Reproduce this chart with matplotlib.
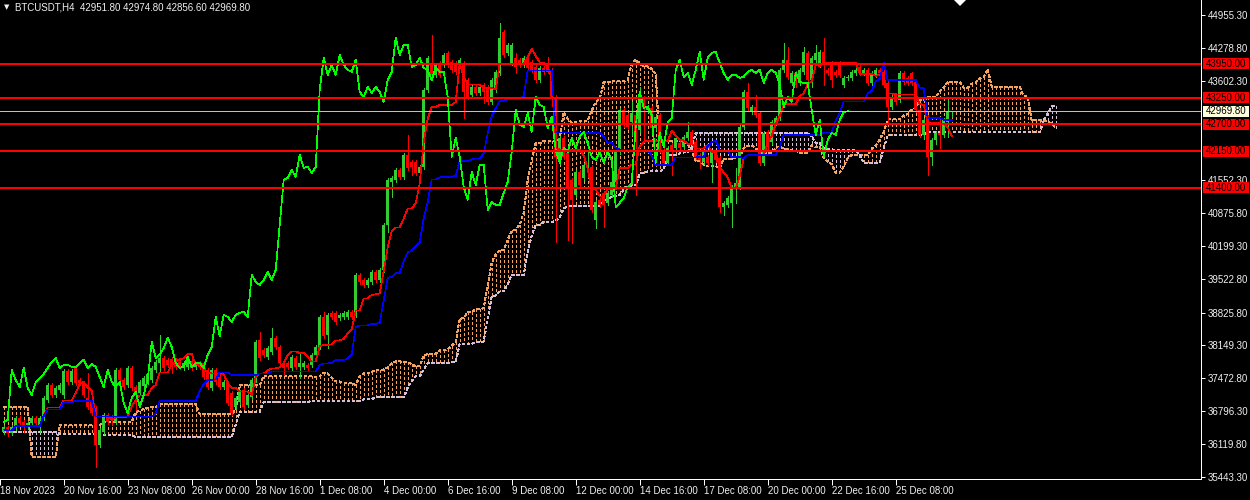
import matplotlib
matplotlib.use("Agg")
import matplotlib.pyplot as plt
from matplotlib.patches import Polygon, Rectangle
from matplotlib.transforms import blended_transform_factory
import numpy as np
import pandas as pd

plt.rcParams["font.family"] = ["Liberation Sans", "DejaVu Sans"]

# BTCUSDT H4 candles, first bar 18 Nov 2023 00:00
OPEN = [
    36369, 36472, 36348, 36451, 36657, 36575, 36472, 36554, 36657, 36513,
    36657, 37028, 37337, 37131, 37234, 37131, 37625, 37399, 37687, 37440,
    37378, 37069, 37028, 36863, 36101, 36369, 36719, 36678, 36575, 37646,
    37440, 37337, 37687, 37296, 37172, 37316, 37399, 37440, 37646, 37790,
    37893, 37852, 37872, 37852, 37811, 37687, 37708, 37831, 37708, 37790,
    37790, 37646, 37275, 37646, 37502, 37296, 37378, 37172, 36884, 36987,
    37234, 36925, 37090, 37440, 38264, 38058, 37914, 38017, 38305, 38119,
    37790, 37790, 37687, 37893, 37708, 37708, 37749, 37749, 37955, 38119,
    38737, 38366, 38819, 38819, 38717, 38737, 38737, 38840, 38778, 39602,
    39499, 39396, 39458, 39664, 39499, 39705, 40631, 41517, 41558, 41764,
    41620, 42073, 41929, 41929, 41702, 41826, 43411, 43967, 43720, 43967,
    43926, 44173, 43988, 43967, 43926, 43967, 43617, 43308, 43473, 43349,
    43514, 43473, 43164, 43411, 43761, 44605, 44173, 43967, 44070, 44029,
    43926, 44029, 43988, 43885, 43617, 43864, 43864, 43823, 43267, 41929,
    42422, 42114, 41558, 41249, 41723, 41599, 41805, 41826, 40734, 41146,
    41290, 41084, 41249, 41517, 42135, 42999, 42896, 42752, 42896, 42587,
    43246, 42999, 43040, 42628, 42896, 42176, 41908, 42278, 42216, 42319,
    42237, 42422, 42546, 42340, 42073, 41929, 42032, 41908, 42135, 42011,
    41002, 41043, 41084, 41393, 41414, 42649, 43370, 42958, 43061, 42937,
    41908, 42546, 42340, 42731, 42834, 43823, 44029, 43555, 43761, 43555,
    43782, 44173, 43617, 44029, 43926, 44193, 43823, 43967, 43782, 43967,
    43514, 43658, 43658, 43761, 43885, 43761, 43823, 43555, 43720, 43823,
    43782, 43555, 43061, 43308, 43205, 43761, 43658, 43761, 43576, 42999,
    42484, 42834, 42032, 42381, 42525, 42484, 42752, 42951.8,
]
HIGH = [
    36513, 36493, 36513, 36699, 36699, 36616, 36595, 36699, 36699, 36699,
    37110, 37378, 37378, 37316, 37378, 37666, 37666, 37666, 37729, 37481,
    37419, 37584, 37069, 36904, 36451, 36760, 36760, 36719, 37687, 37687,
    37481, 37729, 37729, 37337, 37440, 37522, 37605, 37729, 37852, 38366,
    37934, 37893, 37914, 37893, 37852, 37831, 37914, 37872, 37811, 37831,
    37831, 37687, 37687, 37687, 37543, 37440, 37419, 37213, 37110, 37234,
    37275, 37172, 37481, 38264, 38428, 38099, 38140, 38510, 38346, 38160,
    37831, 37831, 37955, 37934, 37996, 37831, 37790, 37996, 38160, 38778,
    38840, 38819, 38860, 38860, 38819, 38860, 38881, 38881, 39643, 39643,
    39540, 39540, 39705, 39705, 39746, 40672, 41599, 41640, 41805, 41805,
    42114, 42484, 41970, 41970, 41867, 43452, 44111, 44543, 43967, 44008,
    44173, 44214, 44029, 44008, 44070, 44008, 43658, 43514, 43514, 43514,
    43555, 43514, 43658, 43823, 44790, 44646, 44379, 44379, 44173, 44070,
    44111, 44070, 44029, 43926, 43905, 43905, 44090, 43864, 43308, 42464,
    42464, 42155, 41599, 41764, 41764, 41908, 42176, 41867, 41146, 41187,
    41331, 41331, 41558, 42176, 43040, 43040, 42937, 43164, 42937, 43473,
    43287, 43102, 43081, 42896, 42937, 42361, 42258, 42319, 42464, 42361,
    42484, 42752, 42587, 42381, 42114, 42176, 42073, 42176, 42176, 42052,
    41125, 41228, 41455, 41805, 42690, 43411, 43555, 43102, 43308, 42978,
    42567, 42587, 42793, 42876, 43864, 44379, 44296, 43802, 43802, 43864,
    44296, 44214, 44111, 44337, 44234, 44482, 43864, 44008, 43823, 44008,
    43699, 43720, 43823, 43864, 43926, 43864, 43864, 43802, 43864, 43864,
    43885, 43597, 43308, 43349, 43802, 43802, 43699, 43782, 43617, 43040,
    42834, 42896, 42422, 42567, 42855, 42834, 43267, 42974.8,
]
LOW = [
    36328, 36287, 36307, 36410, 36513, 36369, 36431, 36513, 36513, 36369,
    36616, 36987, 37090, 37090, 37193, 37069, 37358, 37358, 37337, 37337,
    37090, 36843, 36719, 35648, 36060, 36328, 36534, 36513, 36534, 37399,
    37255, 37296, 37234, 36822, 37131, 37275, 37358, 37399, 37605, 37605,
    37646, 37708, 37584, 37666, 37666, 37646, 37666, 37646, 37666, 37666,
    37460, 37255, 37234, 37358, 37255, 37255, 36925, 36719, 36843, 36946,
    36843, 36884, 37049, 37399, 37852, 37914, 37872, 37975, 38078, 37749,
    37543, 37666, 37646, 37666, 37481, 37666, 37646, 37708, 37914, 38078,
    38305, 38099, 38696, 38593, 38675, 38696, 38696, 38696, 38737, 39416,
    39355, 39355, 39416, 39458, 39458, 39664, 40487, 41208, 41517, 41578,
    41578, 41764, 41661, 41661, 41661, 41784, 43370, 43679, 43679, 43679,
    43885, 43885, 43782, 43740, 43885, 42834, 43226, 43267, 43308, 43308,
    43143, 43123, 43123, 43370, 43720, 44090, 44132, 43926, 43761, 43885,
    43885, 43823, 43782, 43576, 43576, 43740, 43761, 43226, 40281, 41887,
    41990, 40322, 40260, 41208, 41414, 41558, 41764, 40899, 40569, 41002,
    40590, 41043, 41208, 41476, 42093, 42649, 42608, 42484, 41249, 42546,
    42381, 42958, 42587, 42587, 42135, 41867, 41867, 41661, 42176, 42176,
    42196, 42381, 42278, 41990, 41805, 41887, 41867, 41517, 41929, 40899,
    40837, 41002, 40590, 41084, 41373, 42608, 42999, 42917, 42855, 41867,
    41867, 42196, 42299, 42690, 42793, 43782, 43638, 43514, 43473, 43514,
    43740, 43576, 43473, 43988, 43885, 43514, 43720, 43473, 43679, 43679,
    43473, 43617, 43617, 43720, 43720, 43720, 43514, 43514, 43679, 43720,
    43473, 42752, 43020, 43123, 43164, 43535, 43514, 43514, 42958, 42443,
    42402, 41661, 41867, 42299, 42216, 42443, 42443, 42856.6,
]
CLOSE = [
    36472, 36348, 36472, 36657, 36554, 36472, 36554, 36657, 36554, 36657,
    37069, 37337, 37131, 37275, 37337, 37625, 37399, 37625, 37378, 37378,
    37131, 36884, 36760, 36101, 36410, 36719, 36575, 36616, 37646, 37440,
    37296, 37687, 37275, 37131, 37399, 37481, 37563, 37687, 37811, 37893,
    37687, 37749, 37749, 37708, 37708, 37790, 37852, 37687, 37770, 37708,
    37502, 37296, 37646, 37399, 37296, 37399, 36966, 36760, 37069, 37193,
    36884, 37131, 37440, 38222, 37893, 37955, 38099, 38305, 38119, 37790,
    37687, 37708, 37914, 37708, 37790, 37790, 37687, 37955, 38119, 38737,
    38346, 38778, 38737, 38634, 38778, 38819, 38840, 38737, 39602, 39458,
    39396, 39499, 39664, 39499, 39705, 40631, 41558, 41599, 41764, 41620,
    42073, 41805, 41826, 41702, 41826, 43411, 44070, 43720, 43926, 43720,
    44132, 43926, 43823, 43782, 44029, 43370, 43267, 43473, 43349, 43473,
    43370, 43164, 43617, 43782, 44482, 44132, 44337, 44337, 43885, 43926,
    44070, 43864, 43823, 43617, 43864, 43782, 43782, 43267, 42032, 42422,
    42032, 41414, 41146, 41723, 41455, 41867, 41867, 40940, 41105, 41043,
    41043, 41290, 41517, 42135, 42999, 42690, 42649, 42937, 42546, 43267,
    43102, 43061, 42628, 42855, 42176, 41908, 42216, 42135, 42422, 42216,
    42443, 42546, 42319, 42032, 41970, 42135, 41908, 42135, 41970, 41002,
    41084, 41187, 41414, 41496, 42649, 43370, 43040, 43061, 42896, 41908,
    42525, 42237, 42752, 42834, 43823, 44029, 43679, 43761, 43514, 43823,
    44193, 43617, 44070, 44173, 44193, 43967, 43761, 43617, 43720, 43720,
    43658, 43679, 43782, 43823, 43761, 43823, 43555, 43761, 43823, 43761,
    43514, 43061, 43267, 43164, 43761, 43576, 43555, 43555, 42999, 42484,
    42793, 42032, 42381, 42525, 42484, 42793, 42958, 42969.8,
]

# senkou spans for the first 77 plotted bars (they come from bars before the window)
SPAN_A_HEAD = (
    [36884] * 7 + [35854] * 7 + [36513] * 11 + [36575] * 8
    + [36780, 36800, 36840, 36860, 36884, 36884] + [36946] * 10
    + [36740] * 9 + [36822] + [37337] * 6 + [37522] * 12
)
SPAN_B_HEAD = (
    [36369] * 7 + [36369] * 7 + [36328] * 11 + [36307] * 8
    + [36266] * 6 + [36266] * 10 + [36266] * 9 + [36513]
    + [36781] * 6 + [36987] * 12
)

LEVELS = [43950.0, 43250.0, 42700.0, 42150.0, 41400.0]
BID = 42969.80
PRICE_TICKS = [44955.30, 44278.80, 43602.30, 41552.30, 40875.80, 40199.30,
               39522.80, 38825.80, 38149.30, 37472.80, 36796.30, 36119.80, 35443.30]
TIME_LABELS = ["18 Nov 2023", "20 Nov 16:00", "23 Nov 08:00", "26 Nov 00:00",
               "28 Nov 16:00", "1 Dec 08:00", "4 Dec 00:00", "6 Dec 16:00",
               "9 Dec 08:00", "12 Dec 00:00", "14 Dec 16:00", "17 Dec 08:00",
               "20 Dec 00:00", "22 Dec 16:00", "25 Dec 08:00"]
HEADER = "BTCUSDT,H4  42951.80 42974.80 42856.60 42969.80"

W, H = 1250, 500
PX = 0.72  # one pixel in points at 100 dpi
THIN = 0.5  # renders as a single pixel when aliased
BULL = "#32CD32"
BEAR = "#FF0000"
SANDY = "#F4A460"
THISTLE = "#D8BFD8"
FG = "#F0F0F0"


def ichimoku(df):
    def mid(n):
        return (df["high"].rolling(n, min_periods=1).max()
                + df["low"].rolling(n, min_periods=1).min()) / 2
    tenkan = mid(9)
    kijun = mid(26)
    n = len(df)
    span_a = np.full(n + 26, np.nan)
    span_b = np.full(n + 26, np.nan)
    span_a[26:] = ((tenkan + kijun) / 2).to_numpy()
    span_b[26:] = mid(52).to_numpy()
    k = len(SPAN_A_HEAD)
    span_a[:k] = SPAN_A_HEAD
    span_b[:k] = SPAN_B_HEAD
    chikou = df["close"].to_numpy()[26:]
    return tenkan.to_numpy(), kijun.to_numpy(), span_a, span_b, chikou


def main():
    df = pd.DataFrame({"open": OPEN, "high": HIGH, "low": LOW, "close": CLOSE})
    tenkan, kijun, span_a, span_b, chikou = ichimoku(df)
    n = len(df)
    x = np.arange(n)

    fig = plt.figure(figsize=(W / 100, H / 100), dpi=100)
    fig.patch.set_facecolor("black")
    ax = fig.add_axes([0, 21 / H, 1201 / W, 479 / H])
    ax.set_facecolor("black")
    ymin, ymax = 35400, 45262
    ax.set_xlim(-0.925, (1201 - 3.7) / 4)
    ax.set_ylim(ymin, ymax)
    ppx = (ymax - ymin) / 479

    # cloud: one dotted vertical per bar, drawn from span A towards span B
    xc = np.arange(len(span_a))
    up = span_a >= span_b
    dash = (0, (4, 3))
    ax.vlines(xc[up], span_a[up], span_b[up], colors=SANDY, linewidth=THIN,
              linestyles=[dash], antialiased=False, zorder=1)
    ax.vlines(xc[~up], span_b[~up], span_a[~up], colors=THISTLE, linewidth=THIN,
              linestyles=[dash], antialiased=False, zorder=1)
    ax.plot(xc, span_a, color=SANDY, lw=THIN, ls=dash, antialiased=False, zorder=1)
    ax.plot(xc, span_b, color=THISTLE, lw=THIN, ls=dash, antialiased=False, zorder=1)

    # candles
    bull = df["close"] >= df["open"]
    colors = np.where(bull, BULL, BEAR)
    ax.vlines(x, df["low"], df["high"], colors=colors, linewidth=THIN,
              antialiased=False, zorder=2)
    bottom = np.minimum(df["open"], df["close"])
    height = np.maximum((df["close"] - df["open"]).abs(), ppx)
    ax.bar(x, height, bottom=bottom, width=0.75, color=colors, linewidth=0,
           antialiased=False, zorder=3)

    # ichimoku lines
    ax.plot(x, tenkan, color="#FF0000", lw=THIN, antialiased=False, zorder=4)
    ax.plot(x, kijun, color="#0000FF", lw=THIN, antialiased=False, zorder=4)
    ax.plot(np.arange(len(chikou)), chikou, color="#00FF00", lw=THIN,
            antialiased=False, zorder=4)

    # horizontal levels and bid line
    for lv in LEVELS:
        ax.axhline(lv, color="#FF0000", lw=2 * PX, antialiased=False, zorder=5)
    ax.axhline(BID, color="#C0C0C0", lw=THIN, antialiased=False, zorder=5)

    # axes styling
    for side in ["top", "left"]:
        ax.spines[side].set_visible(False)
    for side in ["right", "bottom"]:
        ax.spines[side].set_color("white")
        ax.spines[side].set_linewidth(PX)
    ax.yaxis.tick_right()
    ax.set_yticks(PRICE_TICKS)
    ax.set_yticklabels([f"{v:.2f}" for v in PRICE_TICKS])
    ax.tick_params(axis="y", colors="white", labelcolor=FG, direction="out",
                   length=3, width=PX, labelsize=7, pad=2)
    ax.set_xticks([16 * k - 0.925 for k in range(len(TIME_LABELS))])
    ax.set_xticklabels(TIME_LABELS, ha="left")
    ax.tick_params(axis="x", colors="white", labelcolor=FG, direction="out",
                   length=4, width=PX, labelsize=7, pad=1)

    # price labels on the axis (boxes cover the tick labels beneath them)
    trans = blended_transform_factory(fig.transFigure, ax.transData)
    for lv in LEVELS + [BID]:
        face = "#FFFFE0" if lv == BID else "#FF0000"
        fig.add_artist(Rectangle((1203 / W, lv - 5.5 * ppx), 46 / W, 11 * ppx,
                                 transform=trans, facecolor=face, edgecolor="none",
                                 zorder=5))
        fig.text(1206 / W, lv, f"{lv:.2f}", transform=trans, color="black",
                 fontsize=7, va="center", ha="left", zorder=6)

    # header and shift marker
    fig.text(4 / W, 1 - 7 / H, "\u25bc", color=FG, fontsize=5, va="center",
             ha="left", family="DejaVu Sans")
    fig.text(15 / W, 1 - 7 / H, HEADER, color=FG, fontsize=7, va="center", ha="left")
    fig.add_artist(Polygon([(954 / W, 1.0), (966 / W, 1.0), (960 / W, 1 - 6 / H)],
                           closed=True, transform=fig.transFigure,
                           facecolor="white", edgecolor="none"))

    fig.savefig("out.png", dpi=100, facecolor="black")


if __name__ == "__main__":
    main()
